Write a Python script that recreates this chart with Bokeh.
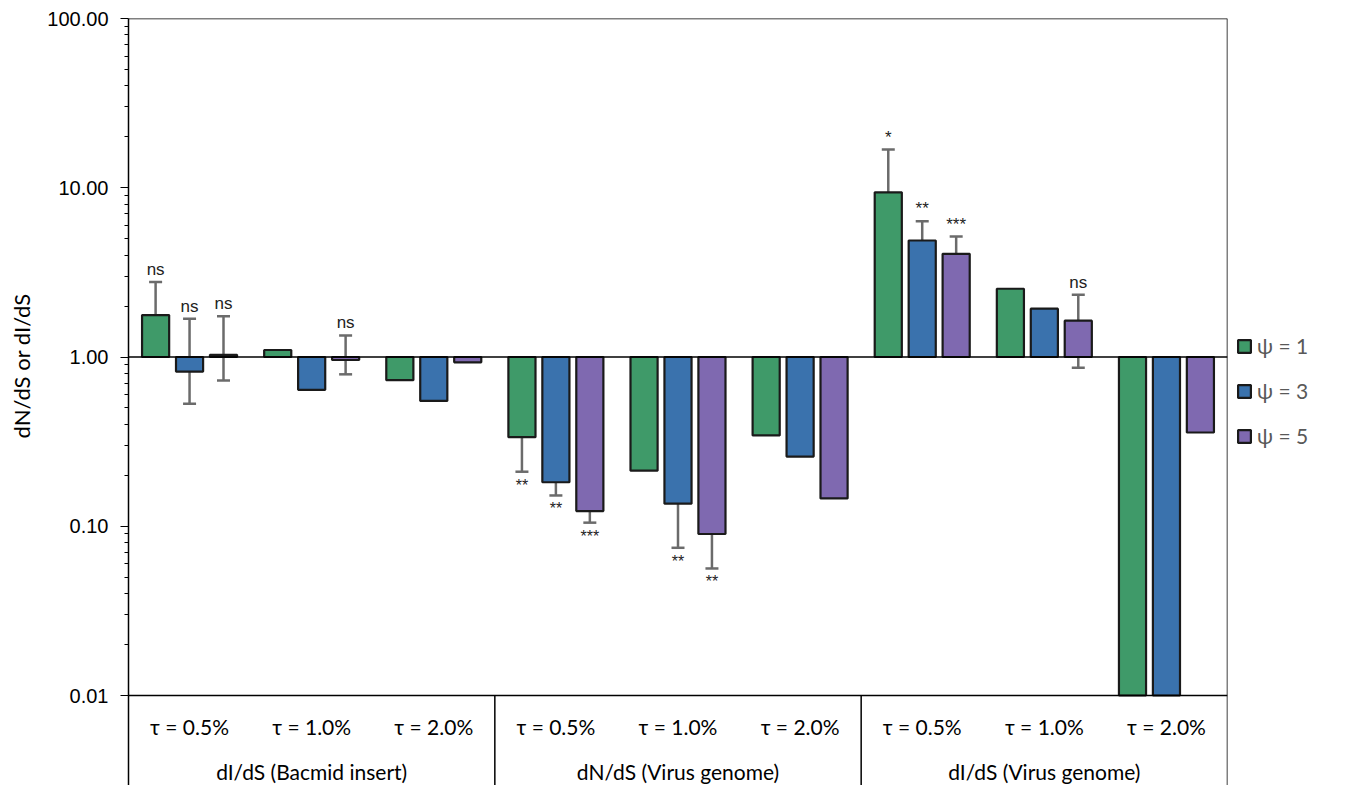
import numpy as np
from bokeh.plotting import figure
from bokeh.models import (Range1d, PrintfTickFormatter, Span, Whisker, TeeHead, Title,
                          ColumnDataSource, Legend, LegendItem, FixedTicker)
from bokeh.core.properties import value
from bokeh.embed import file_html
from bokeh.resources import INLINE

groups = ["dI/dS (Bacmid insert)", "dN/dS (Virus genome)", "dI/dS (Virus genome)"]
taus = ["τ = 0.5%", "τ = 1.0%", "τ = 2.0%"]
psi_labels = ["ψ = 1", "ψ = 3", "ψ = 5"]
y_ticks = [0.01, 0.1, 1, 10, 100]

# values per psi, cluster order: 3 groups x 3 taus (last two bars run off the axis at 0.01)
psi1 = [1.77, 1.10, 0.73, 0.336, 0.213, 0.344, 9.4, 2.53, 0.01]
psi3 = [0.82, 0.64, 0.55, 0.182, 0.136, 0.258, 4.88, 1.93, 0.01]
psi5 = [1.03, 0.96, 0.93, 0.123, 0.090, 0.146, 4.07, 1.64, 0.358]

psi1_lo = [1.20, None, None, 0.21, None, None, 4.58, None, None]
psi1_hi = [2.77, None, None, 0.488, None, None, 16.8, None, None]
psi3_lo = [0.53, None, None, 0.152, 0.0746, None, 3.68, None, None]
psi3_hi = [1.68, None, None, 0.27, 0.284, None, 6.34, None, None]
psi5_lo = [0.726, 0.79, None, 0.105, 0.0563, None, 3.30, 0.863, None]
psi5_hi = [1.74, 1.34, None, 0.166, 0.177, None, 5.15, 2.33, None]

psi1_sig = ["ns", "", "", "**", "", "", "*", "", ""]
psi3_sig = ["ns", "", "", "**", "**", "", "**", "", ""]
psi5_sig = ["ns", "ns", "", "***", "**", "", "***", "ns", ""]

colors = ["#3f9a69", "#3a72ad", "#7f69b0"]

series = [
    (psi1, psi1_lo, psi1_hi, psi1_sig),
    (psi3, psi3_lo, psi3_hi, psi3_sig),
    (psi5, psi5_lo, psi5_hi, psi5_sig),
]

LEFT = 128
TOP = 18
FRAME_W = 1099
PX_PER_DECADE = 169.25
TABLE_H = 90
FRAME_H = int(round(4 * PX_PER_DECADE)) + TABLE_H
y_low = 0.01 * 10 ** (-TABLE_H / PX_PER_DECADE)

p = figure(y_axis_type="log",
           x_range=Range1d(0, 9), y_range=Range1d(y_low, 100),
           output_backend="svg", toolbar_location=None,
           min_border_left=LEFT, min_border_right=0, min_border_top=TOP, min_border_bottom=0)
p.frame_width = FRAME_W
p.frame_height = FRAME_H
p.xaxis.visible = False
p.xgrid.visible = False
p.ygrid.visible = False
p.outline_line_color = None
p.background_fill_color = "white"

minor = [m * 10.0 ** e for e in range(-2, 2) for m in range(2, 10)]
ya = p.yaxis[0]
ya.ticker = FixedTicker(ticks=y_ticks, minor_ticks=minor)
ya.formatter = PrintfTickFormatter(format="%.2f")
ya.major_label_text_font = "Liberation Sans"
ya.major_label_text_font_size = "20px"
ya.major_label_text_color = "black"
ya.major_label_standoff = 12
ya.major_tick_out = 8
ya.major_tick_in = 0
ya.minor_tick_out = 4
ya.minor_tick_in = 0
ya.axis_line_width = 1.5
ya.axis_line_color = "black"
ya.major_tick_line_color = "black"
ya.minor_tick_line_color = "black"

p.add_layout(Title(text="dN/dS or dI/dS", align="left", offset=347, standoff=15,
                   vertical_align="top",
                   text_font="Lato", text_font_size="22px", text_font_style="normal",
                   text_color="black"), "left")

# frame top and right edges
p.add_layout(Span(location=100, dimension="width", line_color="black", line_width=1.5))
p.add_layout(Span(location=9, dimension="height", line_color="black", line_width=1.5))
p.add_layout(Span(location=1.0, dimension="width", line_color="black", line_width=1.5))

offsets = [-0.278, 0.0, 0.278]
bw = 0.222
x_centers = np.arange(9) + 0.5
items = []
for k, (vals, lo, hi, sig) in enumerate(series):
    xs = x_centers + offsets[k]
    src = ColumnDataSource(dict(x=xs, top=vals, bottom=[1.0] * len(vals)))
    r = p.vbar(x="x", top="top", bottom="bottom", width=bw, source=src,
               fill_color=colors[k], line_color="#1a1a1a", line_width=2.2)
    items.append(LegendItem(label=psi_labels[k], renderers=[r]))

    ex, el, eh = [], [], []
    for i in range(len(vals)):
        if lo[i] is not None:
            ex.append(xs[i]); el.append(lo[i]); eh.append(hi[i])
    esrc = ColumnDataSource(dict(x=ex, lower=el, upper=eh))
    w = Whisker(base="x", lower="lower", upper="upper", source=esrc, dimension="height",
                line_color="#6b6b6b", line_width=2.5,
                upper_head=TeeHead(size=13, line_color="#6b6b6b", line_width=2.5),
                lower_head=TeeHead(size=13, line_color="#6b6b6b", line_width=2.5))
    p.add_layout(w)

    ax, ay, at = [], [], []
    bx, by, bt = [], [], []
    for i in range(len(vals)):
        if not sig[i]:
            continue
        if vals[i] >= 1 or sig[i] == "ns":
            ax.append(xs[i]); ay.append(hi[i]); at.append(sig[i])
        else:
            bx.append(xs[i]); by.append(lo[i]); bt.append(sig[i])
    p.text(x=ax, y=ay, text=at, text_align="center", text_baseline="bottom", y_offset=-3,
           text_font=value("Liberation Sans"), text_font_size="17px", text_color="#222222")
    p.text(x=bx, y=by, text=bt, text_align="center", text_baseline="top", y_offset=5,
           text_font=value("Liberation Sans"), text_font_size="16px", text_color="#222222")

# category table in the lower band of the frame
p.add_layout(Span(location=0.01, dimension="width", line_color="black", line_width=1.5))
sep_x = [3, 6]
p.segment(x0=sep_x, x1=sep_x, y0=[y_low] * 2, y1=[0.01] * 2, line_color="black", line_width=1.5)
tau_x = list(x_centers)
tau_t = [taus[i % 3] for i in range(9)]
p.text(x=tau_x, y=[0.01] * 9, text=tau_t, text_align="center", text_baseline="middle",
       y_offset=31, text_font=value("Lato"), text_font_size="21px", text_color="black")
p.text(x=[1.5, 4.5, 7.5], y=[0.01] * 3, text=groups, text_align="center", text_baseline="middle",
       y_offset=76, text_font=value("Lato"), text_font_size="21px", text_color="black")

legend = Legend(items=items, location=(9, 337), orientation="vertical",
                glyph_width=16, glyph_height=16, label_height=20, spacing=20,
                label_text_font="Lato", label_text_font_size="21px", label_text_color="#595959",
                label_standoff=5, padding=0, margin=0, border_line_color=None,
                background_fill_alpha=0)
p.add_layout(legend, "right")

open("out.html", "w").write(file_html(p, INLINE))
